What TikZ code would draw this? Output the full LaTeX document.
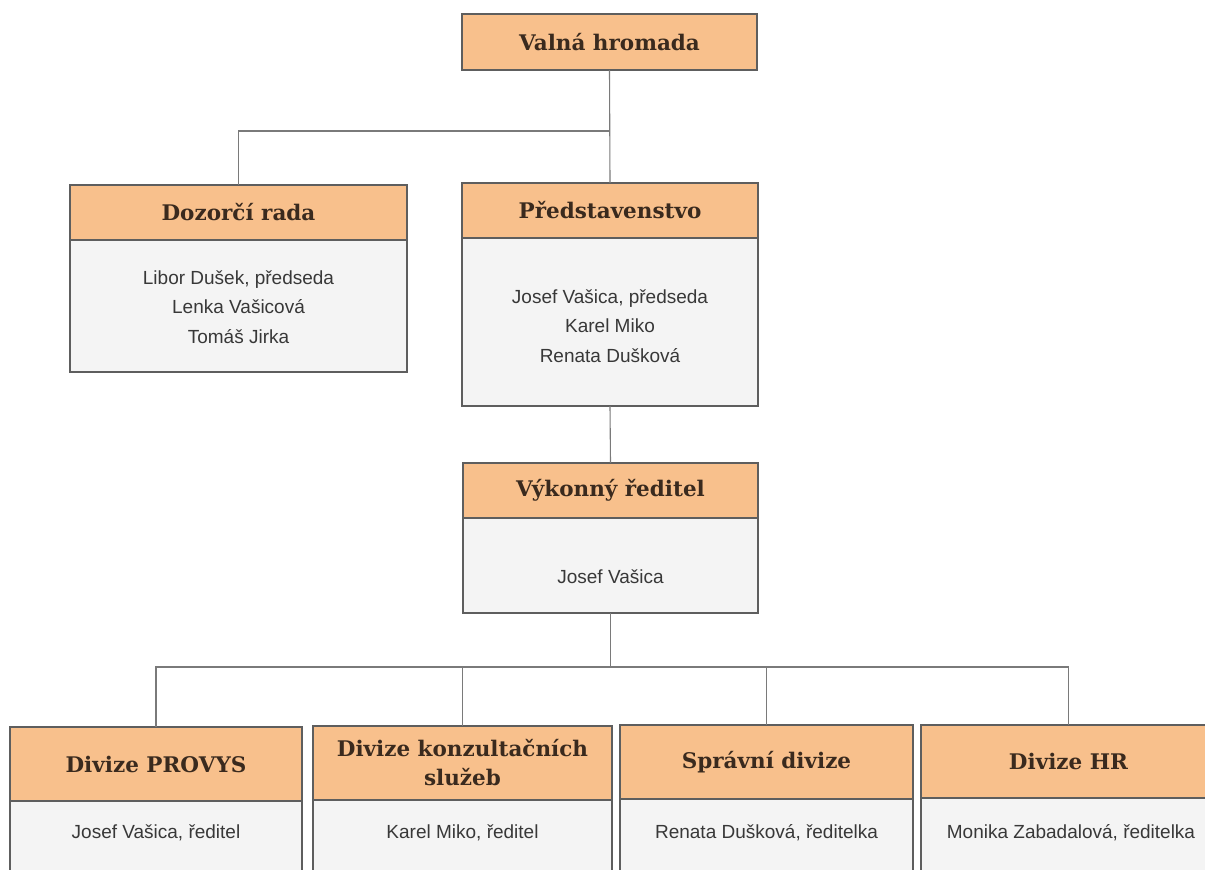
\documentclass[tikz,border=0pt]{standalone}
\usepackage{fontspec}
\setmainfont{Liberation Sans}
\newfontfamily\hdfont{DejaVu Serif}
\definecolor{hdfill}{HTML}{F8C08C}
\definecolor{bdfill}{HTML}{F4F4F4}
\definecolor{bordc}{HTML}{5E5E5E}
\definecolor{connc}{HTML}{7A7A7A}
\definecolor{hdtext}{HTML}{3A2A1E}
\definecolor{bdtext}{HTML}{383838}
\begin{document}
\begin{tikzpicture}[x=1pt,y=-1pt,
  hd/.style={draw=bordc, line width=1.2pt, fill=hdfill, inner sep=0pt, outer sep=0pt, anchor=north west,
    font=\hdfont\bfseries\fontsize{21.5}{29}\selectfont, text=hdtext, align=center},
  bd/.style={draw=bordc, line width=1.2pt, fill=bdfill, inner sep=0pt, outer sep=0pt, anchor=north west},
  tx/.style={font=\fontsize{19}{29.5}\selectfont, text=bdtext, align=center, inner sep=0pt},
  conn/.style={draw=connc, line width=1.1pt}]
\useasboundingbox (0,0) rectangle (1205,870);
\clip (0,0) rectangle (1205,870);
\fill[white] (0,0) rectangle (1205,870);

% Valna hromada
\node[hd, minimum width=295pt, minimum height=56pt] (vh) at (462,14) {Valná hromada};

% Dozorci rada
\node[hd, minimum width=337pt, minimum height=55pt] (dr) at (70,185) {Dozorčí rada};
\node[bd, minimum width=337pt, minimum height=132pt] (drb) at (70,240) {};
\node[tx] (drt) at (238.5,307) {Libor Dušek, předseda\\Lenka Vašicová\\Tomáš Jirka};

% Predstavenstvo
\node[hd, minimum width=296pt, minimum height=55pt] (ps) at (462,183) {Představenstvo};
\node[bd, minimum width=296pt, minimum height=168pt] (psb) at (462,238) {};
\node[tx] (pst) at (610,326) {Josef Vašica, předseda\\Karel Miko\\Renata Dušková};

% Vykonny reditel
\node[hd, minimum width=295pt, minimum height=55pt] (vk) at (463,463) {Výkonný ředitel};
\node[bd, minimum width=295pt, minimum height=95pt] (vkb) at (463,518) {};
\node[tx] (vkt) at (610.5,577) {Josef Vašica};

% Divisions
\node[hd, minimum width=292pt, minimum height=74pt] (d1) at (10,727) {Divize PROVYS};
\node[bd, minimum width=292pt, minimum height=100pt] (d1b) at (10,801) {};
\node[tx] (d1t) at (156,833) {Josef Vašica, ředitel};

\node[hd, minimum width=299pt, minimum height=74pt] (d2) at (313,726) {Divize konzultačních\\služeb};
\node[bd, minimum width=299pt, minimum height=100pt] (d2b) at (313,800) {};
\node[tx] (d2t) at (462.5,833) {Karel Miko, ředitel};

\node[hd, minimum width=293pt, minimum height=74pt] (d3) at (620,725) {Správní divize};
\node[bd, minimum width=293pt, minimum height=100pt] (d3b) at (620,799) {};
\node[tx] (d3t) at (766.5,833) {Renata Dušková, ředitelka};

\node[hd, minimum width=295pt, minimum height=73pt] (d4) at (921,725) {Divize HR};
\node[bd, minimum width=295pt, minimum height=100pt] (d4b) at (921,798) {};
\node[tx] (d4t) at (1071,833) {Monika Zabadalová, ředitelka};

% connectors
\coordinate (j1) at (vh.south |- 0,131);
\draw[conn] (vh.south) -- (ps.north);
\draw[conn] (j1) -| (dr.north);
\draw[conn] (psb.south) -- (vk.north);
\coordinate (j2) at (vkb.south |- 0,667);
\draw[conn] (vkb.south) -- (j2);
\draw[conn] (d1.north) -- (d1.north |- j2) -- (d4.north |- j2) -- (d4.north);
\draw[conn] (d2.north) -- (d2.north |- j2);
\draw[conn] (d3.north) -- (d3.north |- j2);
\end{tikzpicture}
\end{document}
